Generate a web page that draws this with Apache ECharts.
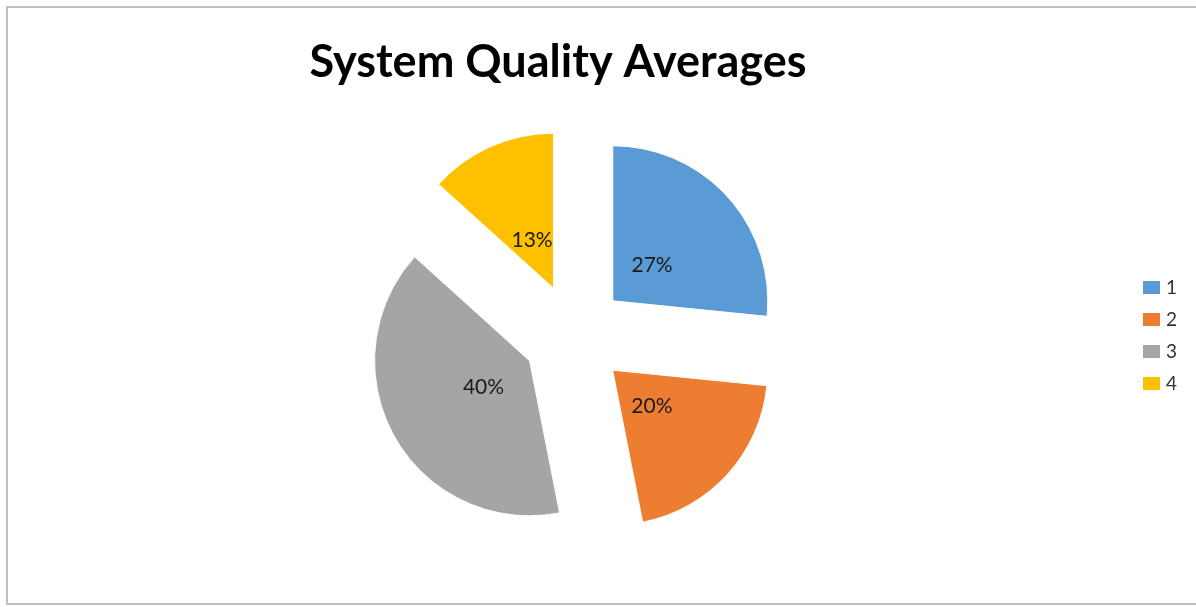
<!DOCTYPE html>
<html>
<head>
<meta charset="utf-8">
<script src="https://cdn.jsdelivr.net/npm/echarts@6/dist/echarts.min.js"></script>
<style>
html,body{margin:0;padding:0;background:#fff;}
#chart{width:1196px;height:607px;}
</style>
</head>
<body>
<div id="chart"></div>
<script>
const categories = ['1', '2', '3', '4'];
const values = [26.6, 20.3, 39.8, 13.3];
const colors = ['#5B9BD5', '#ED7D31', '#A5A5A5', '#FFC000'];
const titleText = 'System Quality Averages';

const chart = echarts.init(document.getElementById('chart'), null, {renderer: 'canvas'});

const mainData = categories.map((c, i) => ({
  name: c, value: values[i], selected: true,
  itemStyle: {color: colors[i]}
}));
const labelData = categories.map((c, i) => ({
  name: c, value: values[i], selected: true
}));

const center = [574.5, 335.4];
const offset = 51.6;

chart.setOption({
  animation: false,
  backgroundColor: '#ffffff',
  title: {
    text: titleText,
    left: 558,
    top: 40,
    textAlign: 'center',
    padding: 0,
    textStyle: {fontFamily: 'Lato', fontWeight: 'bold', fontSize: 45, lineHeight: 45, color: '#000'}
  },
  legend: {
    orient: 'vertical',
    left: 1141,
    top: 278,
    padding: 0,
    itemWidth: 19,
    itemHeight: 15,
    itemGap: 13,
    icon: 'rect',
    data: categories.map((c, i) => ({name: c, itemStyle: {color: colors[i]}})),
    textStyle: {fontFamily: 'Lato', fontSize: 19, lineHeight: 19, color: '#333'},
    selectedMode: false
  },
  graphic: [{
    type: 'rect',
    shape: {x: 7, y: 7, width: 1200, height: 597},
    style: {fill: 'none', stroke: '#c0c0c0', lineWidth: 2},
    silent: true
  }],
  series: [{
    type: 'pie',
    center: center,
    radius: [0, 155],
    startAngle: 90,
    clockwise: true,
    selectedMode: 'multiple',
    selectedOffset: offset,
    percentPrecision: 0,
    silent: true,
    emphasis: {disabled: true, scale: false},
    itemStyle: {borderColor: '#ffffff', borderWidth: 1},
    label: {show: false},
    labelLine: {show: false},
    data: mainData
  }, {
    type: 'pie',
    center: center,
    radius: [0, 100],
    startAngle: 90,
    clockwise: true,
    selectedMode: 'multiple',
    selectedOffset: offset,
    percentPrecision: 0,
    silent: true,
    emphasis: {disabled: true, scale: false},
    itemStyle: {color: 'rgba(0,0,0,0)', borderWidth: 0},
    label: {show: true, position: 'inside', formatter: '{d}%', fontFamily: 'Lato', fontSize: 21, color: '#1a1a1a', padding: [7, 0, 0, 0]},
    labelLine: {show: false},
    data: labelData
  }]
});
</script>
</body>
</html>
